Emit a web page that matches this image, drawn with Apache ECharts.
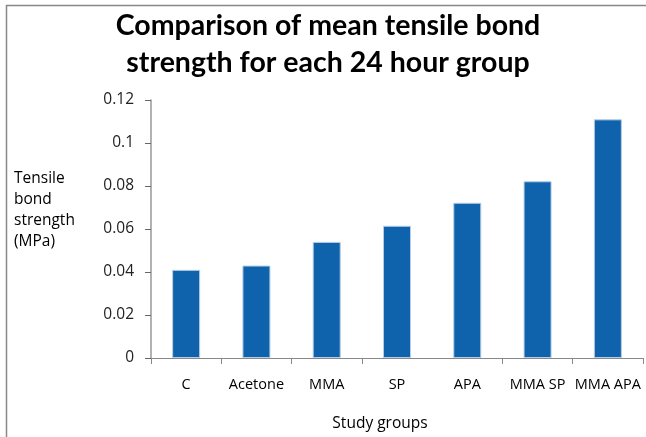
<!DOCTYPE html>
<html><head><meta charset="utf-8">
<script src="https://cdn.jsdelivr.net/npm/echarts@6/dist/echarts.min.js"></script>
<style>html,body{margin:0;padding:0;background:#fff}#c{width:646px;height:437px}</style>
</head><body><div id="c"></div>
<script>
var categories = ['C', 'Acetone', 'MMA', 'SP', 'APA', 'MMA SP', 'MMA APA'];
var strengthValues = [0.041, 0.043, 0.054, 0.0615, 0.0722, 0.0822, 0.111];
var yTicks = [0, 0.02, 0.04, 0.06, 0.08, 0.1, 0.12];

var chart = echarts.init(document.getElementById('c'));
chart.setOption({
  animation: false,
  title: {
    text: 'Comparison of mean tensile bond\nstrength for each 24 hour group',
    left: 323, top: 2, textAlign: 'center',
    textStyle: { fontFamily: 'Lato', fontWeight: 'bold', fontSize: 28.5, lineHeight: 37, color: '#000' }
  },
  graphic: [
    { type: 'line', shape: { x1: 6, y1: 5.5, x2: 646, y2: 5.5 }, style: { stroke: '#888', lineWidth: 1.5 } },
    { type: 'line', shape: { x1: 6.5, y1: 5, x2: 6.5, y2: 437 }, style: { stroke: '#888', lineWidth: 1.5 } },
    { type: 'text', left: 14, top: 168, style: { text: 'Tensile\nbond\nstrength\n(MPa)', fontFamily: 'Open Sans', fontSize: 15.5, lineHeight: 21, fill: '#000' } }
  ],
  grid: { left: 151, right: 3, top: 100, bottom: 79 },
  xAxis: {
    type: 'category', data: categories,
    name: 'Study groups', nameLocation: 'middle', nameGap: 58,
    nameTextStyle: { fontFamily: 'Open Sans', fontSize: 15.5, color: '#000', padding: [0, 34, 0, 0] },
    axisLine: { lineStyle: { color: '#888', width: 1 } },
    axisTick: { show: true, length: 6, lineStyle: { color: '#888' }, interval: function (i) { return i !== 4; } },
    axisLabel: { fontFamily: 'Open Sans', fontSize: 14.5, color: '#000', margin: 19, interval: 0 }
  },
  yAxis: {
    type: 'value', min: 0, max: 0.12, interval: 0.02,
    splitLine: { show: false },
    axisLine: { show: true, lineStyle: { color: '#999', width: 1.5 } },
    axisTick: { show: true, length: 6, lineStyle: { color: '#666' } },
    axisLabel: { fontFamily: 'Open Sans', fontSize: 15.5, color: '#222', margin: 17,
      formatter: function (v) { var r = yTicks.find(function (t) { return Math.abs(t - v) < 1e-9; }); return r === undefined ? '' : String(+r.toFixed(2)); } }
  },
  series: [{
    type: 'bar', data: strengthValues, barWidth: 28,
    itemStyle: { color: '#0F62AC', borderColor: '#b5cde6', borderWidth: 1 }
  }]
});
</script></body></html>
